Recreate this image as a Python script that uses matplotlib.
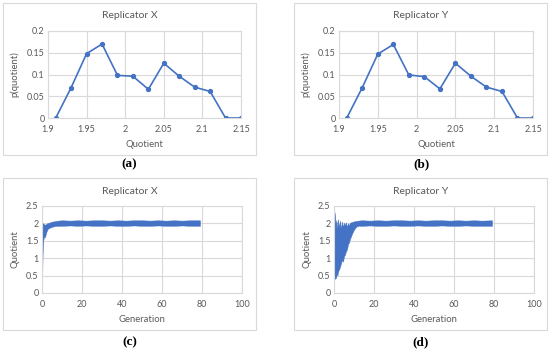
import matplotlib
matplotlib.use("Agg")
import matplotlib.pyplot as plt
from matplotlib.patches import Rectangle

# ---------------- data ----------------
quotient = [1.91, 1.93, 1.95, 1.97, 1.99, 2.01, 2.03, 2.05, 2.07, 2.09, 2.11, 2.13, 2.15]
p_x = [0, 0.07, 0.148, 0.17, 0.098, 0.096, 0.066, 0.126, 0.096, 0.071, 0.061, 0, 0]
p_y = [0, 0.07, 0.147, 0.169, 0.099, 0.095, 0.067, 0.126, 0.096, 0.071, 0.061, 0, 0]

q_ticks = [1.9, 1.95, 2.0, 2.05, 2.1, 2.15]
q_ticklabels = ["1.9", "1.95", "2", "2.05", "2.1", "2.15"]
p_ticks = [0, 0.05, 0.1, 0.15, 0.2]
p_ticklabels = ["0", "0.05", "0.1", "0.15", "0.2"]

gen_ticks = [0, 20, 40, 60, 80, 100]
gen_ticklabels = ["0", "20", "40", "60", "80", "100"]
quo_ticks = [0, 0.5, 1, 1.5, 2, 2.5]
quo_ticklabels = ["0", "0.5", "1", "1.5", "2", "2.5"]

# envelope (low / high) of the dense quotient time series
gen_c = [0, 0.15, 0.3, 0.6, 1.0, 1.5, 2.0, 2.5, 3.0, 4.0, 5.0, 6.0, 8.0, 10,
         14, 18, 22, 26, 30, 34, 38, 42, 46, 50, 54, 58, 62, 66, 70, 74, 79]
lo_c = [0.45, 0.6, 1.1, 1.5, 1.62, 1.6, 1.72, 1.8, 1.85, 1.88, 1.9, 1.92, 1.93, 1.93,
        1.94, 1.93, 1.94, 1.93, 1.93, 1.94, 1.93, 1.93, 1.94, 1.93, 1.93, 1.94,
        1.93, 1.93, 1.94, 1.93, 1.93]
hi_c = [0.5, 1.3, 2.0, 2.0, 1.98, 1.96, 1.98, 2.0, 2.01, 2.03, 2.05, 2.06, 2.08, 2.09,
        2.08, 2.09, 2.08, 2.09, 2.09, 2.08, 2.09, 2.08, 2.09, 2.09, 2.08, 2.09,
        2.08, 2.09, 2.08, 2.09, 2.09]

gen_d = [0, 0.3, 0.5, 0.8, 1.0, 1.3, 1.7, 2.0, 2.3, 2.7, 3.0, 3.5, 4.0, 4.5, 5.0,
         5.5, 6.0, 6.5, 7.0, 7.5, 8.0, 9.0, 10, 11, 12,
         14, 18, 22, 26, 30, 34, 38, 42, 46, 50, 54, 58, 62, 66, 70, 74, 79]
lo_d = [0.38, 0.45, 0.4, 0.5, 0.42, 0.55, 0.5, 0.6, 0.65, 0.7, 0.75, 0.85, 0.95,
        0.9, 1.05, 1.1, 1.2, 1.25, 1.4, 1.45, 1.55, 1.7, 1.82, 1.9, 1.93,
        1.93, 1.94, 1.93, 1.93, 1.94, 1.93, 1.93, 1.94, 1.93, 1.93, 1.94, 1.93,
        1.93, 1.94, 1.93, 1.93, 1.93]
hi_d = [1.55, 2.32, 2.2, 1.9, 2.1, 1.85, 2.05, 2.12, 1.9, 2.0, 2.08, 1.85, 2.05,
        1.9, 2.02, 1.95, 2.03, 1.9, 2.0, 1.95, 2.02, 2.04, 2.06, 2.07, 2.08,
        2.09, 2.08, 2.09, 2.08, 2.09, 2.09, 2.08, 2.09, 2.08, 2.09, 2.09, 2.08,
        2.09, 2.08, 2.09, 2.08, 2.09]

titles = ["Replicator X", "Replicator Y", "Replicator X", "Replicator Y"]
panel_labels = ["(a)", "(b)", "(c)", "(d)"]

# ---------------- style ----------------
BLUE = "#4472C4"
GRID = "#d9d9d9"
TXT = "#595959"
FONT = "Lato"

W, H = 550, 350
fig = plt.figure(figsize=(W / 100, H / 100), dpi=100)


def fx(px):
    return px / W


def fy(py):
    return 1 - py / H


def box(x0, y0, x1, y1):
    fig.patches.append(Rectangle((fx(x0), fy(y1)), fx(x1) - fx(x0), fy(y0) - fy(y1),
                                 transform=fig.transFigure, fill=False,
                                 edgecolor=GRID, linewidth=0.8))


def make_axes(x0, y0, x1, y1):
    ax = fig.add_axes([fx(x0), fy(y1), fx(x1) - fx(x0), fy(y0) - fy(y1)])
    for s in ax.spines.values():
        s.set_color(GRID)
        s.set_linewidth(0.8)
    ax.grid(True, color=GRID, linewidth=0.8)
    ax.set_axisbelow(True)
    ax.tick_params(length=0, labelsize=6.5, labelcolor=TXT)
    ax.tick_params(axis="x", pad=5)
    ax.tick_params(axis="y", pad=2.5)
    return ax


def style_labels(ax):
    for lab in ax.get_xticklabels() + ax.get_yticklabels():
        lab.set_family(FONT)
        lab.set_color(TXT)


# boxes: (x0, y0, x1, y1) in pixels, top-down
boxes = [(3, 3, 256, 155), (294, 3, 547, 155), (3, 178, 256, 330), (294, 178, 547, 330)]
axes_px = [(48, 31, 241, 118), (339, 31, 533, 118), (42, 206, 242, 293), (334, 206, 534, 293)]
label_pos = [(129, 164), (421, 164), (130, 342), (421, 342)]

for i in range(4):
    box(*boxes[i])
    ax = make_axes(*axes_px[i])
    bx0, by0, bx1, by1 = boxes[i]
    fig.text(fx((bx0 + bx1) / 2), fy(by0 + 13), titles[i], ha="center", va="center",
             fontsize=7.5, color=TXT, family=FONT)
    fig.text(fx(label_pos[i][0]), fy(label_pos[i][1]), panel_labels[i], ha="center",
             va="center", fontsize=9.5, fontweight="bold", family="Liberation Serif",
             color="black")
    if i < 2:
        vals = p_x if i == 0 else p_y
        ax.plot(quotient, vals, color=BLUE, linewidth=1.2, marker="o", markersize=2.8)
        ax.set_xlim(1.9, 2.15)
        ax.set_ylim(0, 0.2)
        ax.set_xticks(q_ticks)
        ax.set_xticklabels(q_ticklabels)
        ax.set_yticks(p_ticks)
        ax.set_yticklabels(p_ticklabels)
        ax.set_xlabel("Quotient", fontsize=6.8, color=TXT, family=FONT, labelpad=4)
        ax.set_ylabel("p(quotient)", fontsize=6.8, color=TXT, family=FONT, labelpad=5)
    else:
        g, lo, hi = (gen_c, lo_c, hi_c) if i == 2 else (gen_d, lo_d, hi_d)
        ax.fill_between(g, lo, hi, color=BLUE, linewidth=0.3, edgecolor=BLUE)
        ax.set_xlim(0, 100)
        ax.set_ylim(0, 2.5)
        ax.set_xticks(gen_ticks)
        ax.set_xticklabels(gen_ticklabels)
        ax.set_yticks(quo_ticks)
        ax.set_yticklabels(quo_ticklabels)
        ax.set_xlabel("Generation", fontsize=6.8, color=TXT, family=FONT, labelpad=4)
        ax.set_ylabel("Quotient", fontsize=6.8, color=TXT, family=FONT, labelpad=5)
    style_labels(ax)

fig.savefig("out.png", dpi=100, facecolor="white")
